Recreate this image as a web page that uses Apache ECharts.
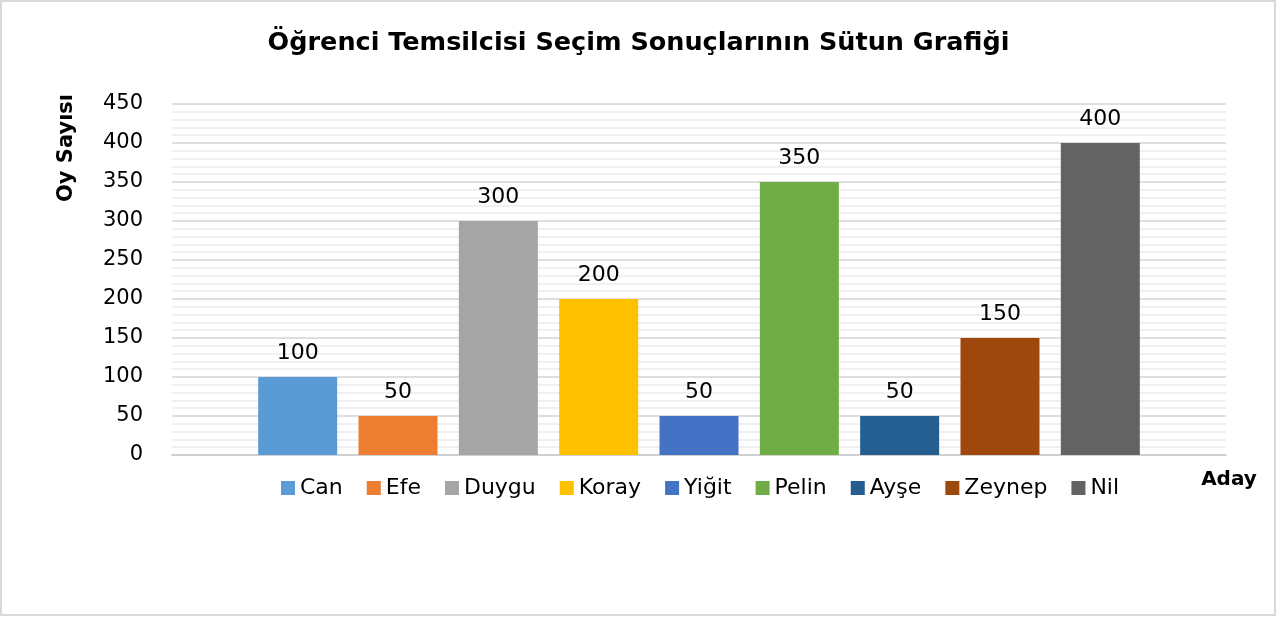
<!DOCTYPE html>
<html lang="tr">
<head>
    <meta charset="UTF-8">
    <title>Seçim Sonuçları</title>
    <script src="https://cdn.jsdelivr.net/npm/echarts@6/dist/echarts.min.js"></script>
    <style>
        html, body { margin: 0; padding: 0; background: #fff; }
    </style>
</head>
<body>
<div id="chart" style="width:1277px;height:618px;"></div>
<script>
    var candidates = ['Can', 'Efe', 'Duygu', 'Koray', 'Yiğit', 'Pelin', 'Ayşe', 'Zeynep', 'Nil'];
    var votes = [100, 50, 300, 200, 50, 350, 50, 150, 400];
    var yTicks = [0, 50, 100, 150, 200, 250, 300, 350, 400, 450];

    var palette = ['#5B9BD5', '#ED7D31', '#A5A5A5', '#FFC000', '#4472C4',
                   '#70AD47', '#255E91', '#9E480E', '#636363'];
    var font = 'DejaVu Sans';

    var series = [];
    for (var i = 0; i < candidates.length; i++) {
        series.push({
            name: candidates[i],
            type: 'bar',
            data: [votes[i]],
            barWidth: 79,
            barGap: '27%',
            itemStyle: { color: palette[i] },
            label: {
                show: true,
                position: 'top',
                distance: 13,
                color: '#000',
                fontFamily: font,
                fontSize: 22
            }
        });
    }

    var myChart = echarts.init(document.getElementById('chart'));
    var option = {
        animation: false,
        backgroundColor: '#fff',
        title: {
            text: 'Öğrenci Temsilcisi Seçim Sonuçlarının Sütun Grafiği',
            left: 'center',
            top: 25,
            textStyle: { fontFamily: font, fontWeight: 'bold', fontSize: 25.5, color: '#000' }
        },
        grid: { left: 172, right: 51, top: 104, bottom: 163 },
        legend: {
            data: candidates,
            left: 276,
            top: 472,
            itemWidth: 14,
            itemHeight: 14,
            itemGap: 24,
            icon: 'rect',
            textStyle: { fontFamily: font, fontSize: 22, color: '#000' }
        },
        xAxis: {
            type: 'category',
            data: [''],
            axisLine: { lineStyle: { color: '#d0d0d0', width: 2 } },
            axisTick: { show: false },
            axisLabel: { show: false }
        },
        yAxis: {
            type: 'value',
            min: yTicks[0],
            max: yTicks[yTicks.length - 1],
            interval: 50,
            axisLine: { show: false },
            axisTick: { show: false },
            axisLabel: { fontFamily: font, fontSize: 21, color: '#000', margin: 29 },
            splitLine: { lineStyle: { color: '#d4d4d4', width: 1.5 } },
            minorTick: { show: false, splitNumber: 5 },
            minorSplitLine: { show: true, lineStyle: { color: '#ececec', width: 1.5 } }
        },
        graphic: [
            {
                type: 'rect',
                shape: { x: 1, y: 1, width: 1274, height: 614 },
                style: { fill: 'none', stroke: '#d9d9d9', lineWidth: 2 },
                silent: true
            },
            {
                type: 'text',
                x: 67, y: 148,
                rotation: Math.PI / 2,
                style: {
                    text: 'Oy Sayısı',
                    fontFamily: font, fontWeight: 'bold', fontSize: 21, fill: '#000',
                    align: 'center', verticalAlign: 'middle'
                }
            },
            {
                type: 'text',
                x: 1229, y: 480,
                style: {
                    text: 'Aday',
                    fontFamily: font, fontWeight: 'bold', fontSize: 20, fill: '#000',
                    align: 'center', verticalAlign: 'middle'
                }
            }
        ],
        series: series
    };
    myChart.setOption(option);
</script>
</body>
</html>
